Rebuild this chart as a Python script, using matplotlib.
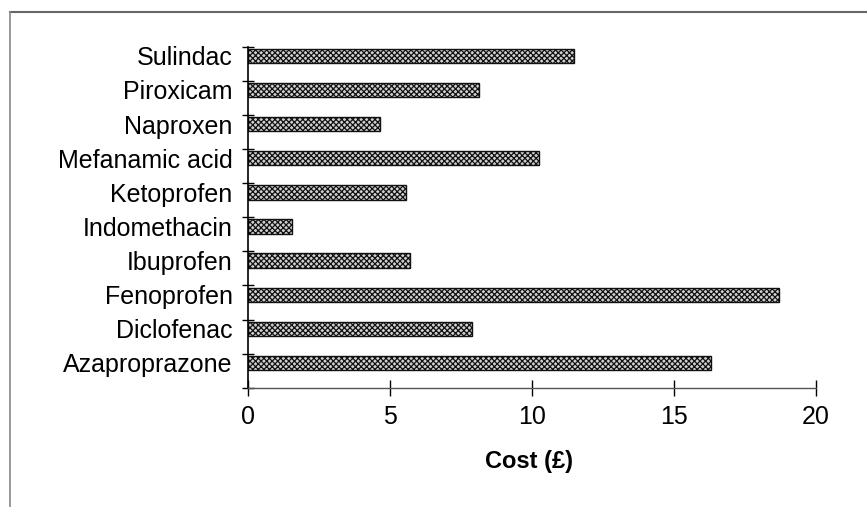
import matplotlib
matplotlib.use('Agg')
import matplotlib.pyplot as plt
from matplotlib.lines import Line2D

plt.rcParams['font.family'] = ['Liberation Sans', 'DejaVu Sans']
plt.rcParams['hatch.linewidth'] = 0.9
plt.rcParams['hatch.color'] = '#3a3a3a'

# data (bottom to top)
drugs = ['Azaproprazone', 'Diclofenac', 'Fenoprofen', 'Ibuprofen', 'Indomethacin',
         'Ketoprofen', 'Mefanamic acid', 'Naproxen', 'Piroxicam', 'Sulindac']
cost = [16.3, 7.9, 18.7, 5.7, 1.55, 5.55, 10.25, 4.65, 8.15, 11.5]
xticks = [0, 5, 10, 15, 20]

fig = plt.figure(figsize=(8.67, 5.07), dpi=100)
ax = fig.add_axes([0.286, 0.235, 0.655, 0.673])

n = len(drugs)
ypos = list(range(n))
ax.barh(ypos, cost, height=0.42, color='#d0d0d0', edgecolor='#111111',
        linewidth=1.0, hatch='xxxxxx')

# bars sit in the upper part of each category band (Excel style)
off = 0.23
ax.set_xlim(0, 20)
ax.set_ylim(-0.5 - off, n - 0.5 - off)
ax.set_xticks(xticks)
ax.set_xticklabels([str(t) for t in xticks], fontsize=18)
ax.set_yticks(ypos)
ax.set_yticklabels(drugs, fontsize=18)
ax.tick_params(axis='y', length=0, pad=11)
ax.tick_params(axis='x', direction='inout', length=12, width=1, pad=6)

# category boundary ticks on the y axis
ax.set_yticks([k - 0.5 - off for k in range(n + 1)], minor=True)
ax.tick_params(axis='y', which='minor', direction='inout', length=9, width=1)

for s in ['top', 'right']:
    ax.spines[s].set_visible(False)
ax.spines['left'].set_linewidth(1.2)
ax.spines['bottom'].set_linewidth(1.0)
ax.spines['bottom'].set_color('#555555')

ax.set_xlabel('Cost (£)', fontsize=17, fontweight='bold', va='center')
ax.xaxis.set_label_coords(0.495, -0.215)

# outer frame (top and left only visible)
fig.add_artist(Line2D([0.012, 1.0], [0.976, 0.976], color='#666666', lw=1.5))
fig.add_artist(Line2D([0.012, 0.012], [0.0, 0.976], color='#888888', lw=1.2))

fig.savefig('out.png', dpi=100)
